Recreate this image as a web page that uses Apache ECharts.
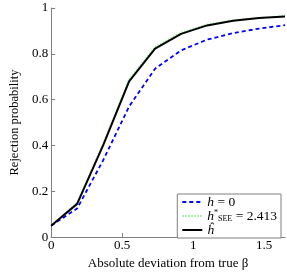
<!DOCTYPE html>
<html><head><meta charset="utf-8">
<script src="https://cdn.jsdelivr.net/npm/echarts@6/dist/echarts.min.js"></script>
<style>html,body{margin:0;padding:0;background:#fff}#c{width:287px;height:275px}</style>
</head><body><div id="c"></div>
<script>
const xValues = [0, 0.183, 0.366, 0.549, 0.732, 0.915, 1.098, 1.281, 1.464, 1.647];
const hZero   = [0.05, 0.125, 0.335, 0.57, 0.735, 0.815, 0.862, 0.89, 0.91, 0.925];
const hSee    = [0.05, 0.152, 0.41, 0.69, 0.832, 0.894, 0.929, 0.948, 0.958, 0.966];
const hHat    = [0.05, 0.145, 0.40, 0.68, 0.823, 0.887, 0.924, 0.944, 0.956, 0.963];
const yTicks = [0, 0.2, 0.4, 0.6, 0.8, 1];
const xTicks = [0, 0.5, 1, 1.5];

const font = 'Liberation Serif';
const pairs = a => xValues.map((x, i) => [x, a[i]]);
const n1 = '{i|h} {n|= 0}';
const n2 = '{i|h}{sup|*}{sub|SEE} {n|= 2.413}';
const n3 = '{i|ĥ}';
const chart = echarts.init(document.getElementById('c'));
chart.setOption({
  animation: false,
  grid: {left: 38, right: 2, top: 8, bottom: 34},
  xAxis: {
    type: 'value', min: 0, max: 1.647, interval: 0.5,
    name: 'Absolute deviation from true β', nameLocation: 'middle', nameGap: 19,
    nameTextStyle: {fontFamily: font, fontSize: 13, color: '#000'},
    axisLine: {lineStyle: {color: '#808080'}},
    axisTick: {inside: true, length: 4, lineStyle: {color: '#808080'}},
    axisLabel: {fontFamily: font, fontSize: 13, color: '#000', margin: 2, showMaxLabel: false,
      formatter: v => xTicks.includes(+v.toFixed(3)) ? String(+v.toFixed(3)) : ''},
    splitLine: {show: false}
  },
  yAxis: {
    type: 'value', min: 0, max: 1, interval: 0.2,
    name: 'Rejection probability', nameLocation: 'middle', nameGap: 25,
    nameTextStyle: {fontFamily: font, fontSize: 12.5, color: '#000'},
    axisLine: {show: true, lineStyle: {color: '#808080'}},
    axisTick: {show: true, inside: true, length: 4, lineStyle: {color: '#808080'}},
    axisLabel: {fontFamily: font, fontSize: 13, color: '#000', margin: 3,
      formatter: v => { const r = +v.toFixed(2); return yTicks.includes(r) ? String(r) : ''; }},
    splitLine: {show: false}
  },
  legend: {
    orient: 'vertical', right: 6, bottom: 37, itemGap: 0, itemWidth: 20, itemHeight: 14,
    padding: [1, 4, 1, 4],
    borderColor: '#808080', borderWidth: 1, backgroundColor: '#fff',
    itemStyle: {opacity: 0},
    textStyle: {fontFamily: font, fontSize: 13.5, color: '#000',
      rich: {i: {fontFamily: font, fontStyle: 'italic', fontSize: 13.5},
             sup: {fontFamily: font, fontSize: 8, verticalAlign: 'top', padding: [0, 0, 6, 0]},
             sub: {fontFamily: font, fontSize: 8, verticalAlign: 'bottom', padding: [6, 0, 0, 0]},
             n: {fontFamily: font, fontSize: 13.5}}},
    data: [{name: n1}, {name: n2}, {name: n3}]
  },
  series: [
    {name: n1, type: 'line', data: pairs(hZero), symbol: 'none',
      lineStyle: {color: '#0000ff', width: 1.8, type: [4, 3]}, itemStyle: {color: '#0000ff'}},
    {name: n2, type: 'line', data: pairs(hSee), symbol: 'none',
      lineStyle: {color: '#90ee90', width: 1.2, type: [1.5, 1.5]}, itemStyle: {color: '#90ee90'}},
    {name: n3, type: 'line', data: pairs(hHat), symbol: 'none',
      lineStyle: {color: '#000', width: 2}, itemStyle: {color: '#000'}}
  ]
});
</script></body></html>
